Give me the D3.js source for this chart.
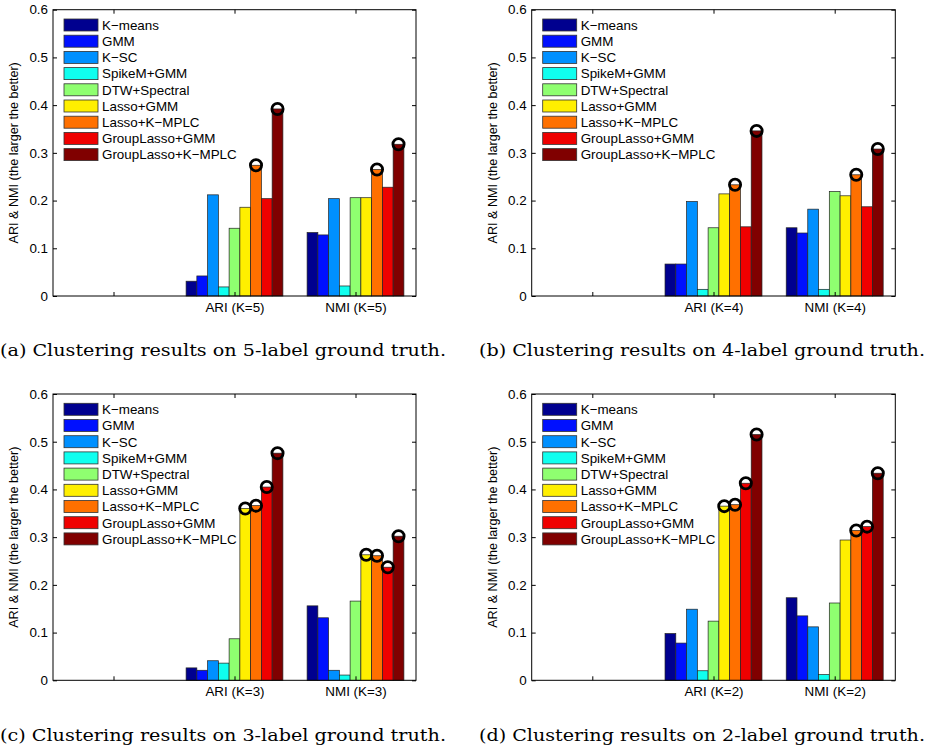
<!DOCTYPE html>
<html>
<head>
<meta charset="utf-8">
<script src="https://cdn.jsdelivr.net/npm/d3@7"></script>
<style>
  html, body { margin: 0; padding: 0; background: #fff; }
  svg { display: block; }
  .tick text { font-family: "Liberation Sans", Arial, Helvetica, sans-serif; font-size: 13.4px; fill: #000; }
  .domain { display: none; }
  .tick line { stroke: #000; stroke-width: 1; }
</style>
</head>
<body>
<svg id="chart" width="927" height="753"></svg>
<script>
// Methods compared (series order inside every group)
const methods = ["K\u2212means", "GMM", "K\u2212SC", "SpikeM+GMM", "DTW+Spectral",
                 "Lasso+GMM", "Lasso+K\u2212MPLC", "GroupLasso+GMM", "GroupLasso+K\u2212MPLC"];

// jet-style palette, one colour per method
const palette = ["#00008f", "#0010ff", "#0090ff", "#10ffef", "#8fff70",
                 "#ffef00", "#ff7000", "#ef0000", "#800000"];

// Y axis ticks
const yTicks = [0, 0.1, 0.2, 0.3, 0.4, 0.5, 0.6];

// 5-label ground truth
const ariK5 = [0.031, 0.042, 0.212, 0.019, 0.142, 0.186, 0.274, 0.204, 0.392];
const nmiK5 = [0.133, 0.128, 0.204, 0.021, 0.206, 0.206, 0.265, 0.228, 0.318];
const ariK5Marked = [6, 8];
const nmiK5Marked = [6, 8];

// 4-label ground truth
const ariK4 = [0.067, 0.067, 0.198, 0.014, 0.143, 0.214, 0.233, 0.145, 0.346];
const nmiK4 = [0.143, 0.132, 0.182, 0.014, 0.219, 0.210, 0.254, 0.187, 0.308];
const ariK4Marked = [6, 8];
const nmiK4Marked = [6, 8];

// 3-label ground truth
const ariK3 = [0.026, 0.021, 0.041, 0.036, 0.087, 0.360, 0.366, 0.405, 0.476];
const nmiK3 = [0.156, 0.131, 0.021, 0.011, 0.166, 0.263, 0.261, 0.237, 0.302];
const ariK3Marked = [5, 6, 7, 8];
const nmiK3Marked = [5, 6, 7, 8];

// 2-label ground truth
const ariK2 = [0.098, 0.078, 0.149, 0.020, 0.124, 0.365, 0.368, 0.413, 0.515];
const nmiK2 = [0.173, 0.135, 0.112, 0.012, 0.162, 0.294, 0.314, 0.322, 0.434];
const ariK2Marked = [5, 6, 7, 8];
const nmiK2Marked = [6, 7, 8];

// Group labels along the x axis (first group is an empty placeholder)
const groupLabelsK5 = ["", "ARI (K=5)", "NMI (K=5)"];
const groupLabelsK4 = ["", "ARI (K=4)", "NMI (K=4)"];
const groupLabelsK3 = ["", "ARI (K=3)", "NMI (K=3)"];
const groupLabelsK2 = ["", "ARI (K=2)", "NMI (K=2)"];

const captions = [
  "(a) Clustering results on 5-label ground truth.",
  "(b) Clustering results on 4-label ground truth.",
  "(c) Clustering results on 3-label ground truth.",
  "(d) Clustering results on 2-label ground truth."
];

const emptyGroup = methods.map(() => 0);

const panels = [
  { labels: groupLabelsK5, groups: [emptyGroup, ariK5, nmiK5], marked: [[], ariK5Marked, nmiK5Marked],
    box: { left: 53, right: 416, top: 9.7, bottom: 296 }, caption: captions[0], capX: 0, capY: 356 },
  { labels: groupLabelsK4, groups: [emptyGroup, ariK4, nmiK4], marked: [[], ariK4Marked, nmiK4Marked],
    box: { left: 531.7, right: 895.3, top: 9.7, bottom: 296 }, caption: captions[1], capX: 479, capY: 356 },
  { labels: groupLabelsK3, groups: [emptyGroup, ariK3, nmiK3], marked: [[], ariK3Marked, nmiK3Marked],
    box: { left: 53, right: 416, top: 394, bottom: 680.3 }, caption: captions[2], capX: 0, capY: 741 },
  { labels: groupLabelsK2, groups: [emptyGroup, ariK2, nmiK2], marked: [[], ariK2Marked, nmiK2Marked],
    box: { left: 531.7, right: 895.3, top: 394, bottom: 680.3 }, caption: captions[3], capX: 479, capY: 741 }
];

const svg = d3.select("#chart");
const sans = "'Liberation Sans', Arial, Helvetica, sans-serif";

panels.forEach(p => {
  const b = p.box;
  const g = svg.append("g");

  const x = d3.scaleLinear().domain([0.5, 3.5]).range([b.left, b.right]);
  const y = d3.scaleLinear().domain([0, 0.6]).range([b.bottom, b.top]);
  // offsets of the series inside a group (grouped bars span 0.8 of a slot)
  const inner = d3.scaleBand().domain(d3.range(methods.length)).range([-0.4, 0.4]).paddingInner(0);
  const bw = inner.bandwidth();

  // bars
  p.groups.forEach((vals, gi) => {
    const center = gi + 1;
    g.append("g").selectAll("rect")
      .data(vals)
      .join("rect")
      .attr("x", (d, i) => x(center + inner(i)))
      .attr("width", (d, i) => x(center + inner(i) + bw) - x(center + inner(i)))
      .attr("y", d => y(d))
      .attr("height", d => y(0) - y(d))
      .attr("fill", (d, i) => palette[i])
      .attr("stroke", "#222")
      .attr("stroke-width", 0.7);
  });

  // highlight rings on the best-performing bars
  p.groups.forEach((vals, gi) => {
    const center = gi + 1;
    g.append("g").selectAll("circle")
      .data(p.marked[gi])
      .join("circle")
      .attr("cx", i => x(center + inner(i) + bw / 2))
      .attr("cy", i => y(vals[i]))
      .attr("r", 5.6)
      .attr("fill", "none")
      .attr("stroke", "#000")
      .attr("stroke-width", 2.8);
  });

  // axes: ticks point inward on all four sides
  g.append("g")
    .attr("transform", `translate(${b.left},0)`)
    .call(d3.axisLeft(y).tickValues(yTicks).tickSize(-4).tickPadding(5)
      .tickFormat(d => d === 0 ? "0" : d3.format(".1f")(d)));
  g.append("g")
    .attr("transform", `translate(${b.right},0)`)
    .call(d3.axisRight(y).tickValues(yTicks).tickSize(-4).tickFormat(""));
  g.append("g")
    .attr("transform", `translate(0,${b.bottom})`)
    .call(d3.axisBottom(x).tickValues([1, 2, 3]).tickSize(-4).tickPadding(6)
      .tickFormat((d, i) => p.labels[i]));
  g.append("g")
    .attr("transform", `translate(0,${b.top})`)
    .call(d3.axisTop(x).tickValues([1, 2, 3]).tickSize(-4).tickFormat(""));

  // axes box
  g.append("rect")
    .attr("x", b.left).attr("y", b.top)
    .attr("width", b.right - b.left).attr("height", b.bottom - b.top)
    .attr("fill", "none").attr("stroke", "#000").attr("stroke-width", 1);

  // y label
  g.append("text")
    .attr("transform", `translate(${b.left - 35},${(b.top + b.bottom) / 2}) rotate(-90)`)
    .attr("text-anchor", "middle")
    .attr("font-family", sans)
    .attr("font-size", 12.6)
    .text("ARI & NMI (the larger the better)");

  // legend
  const leg = g.append("g").attr("transform", `translate(${b.left + 11},${b.top + 15.3})`);
  const rows = leg.selectAll("g").data(methods).join("g")
    .attr("transform", (d, i) => `translate(0,${i * 16.2})`);
  rows.append("rect")
    .attr("x", 0).attr("y", -6).attr("width", 34).attr("height", 12)
    .attr("fill", (d, i) => palette[i])
    .attr("stroke", "#333").attr("stroke-width", 0.8);
  rows.append("text")
    .attr("x", 38).attr("dy", "0.36em")
    .attr("font-family", sans).attr("font-size", 13.4)
    .text(d => d);

  // caption
  svg.append("text")
    .attr("x", p.capX).attr("y", p.capY)
    .attr("font-family", "'DejaVu Serif', serif")
    .attr("font-size", 16.5)
    .attr("textLength", 446)
    .attr("lengthAdjust", "spacingAndGlyphs")
    .text(p.caption);
});
</script>
</body>
</html>
